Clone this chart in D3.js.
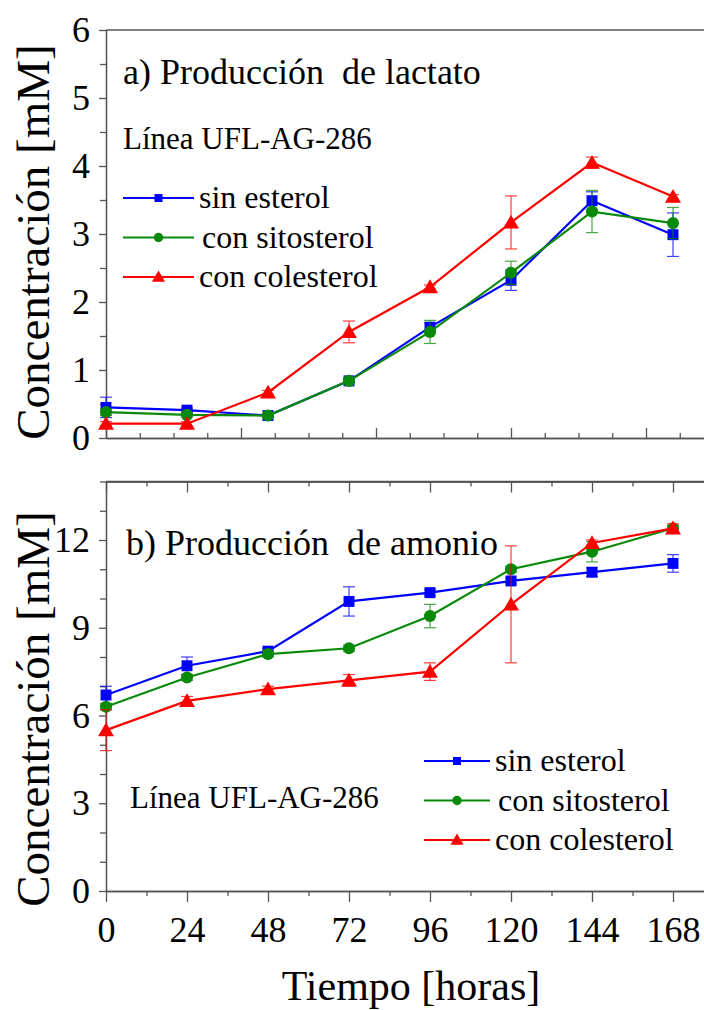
<!DOCTYPE html>
<html><head><meta charset="utf-8">
<script src="https://cdn.jsdelivr.net/npm/d3@7/dist/d3.min.js"></script>
<style>
html,body{margin:0;padding:0;background:#fff;}
svg text{font-family:"Liberation Serif","Times New Roman",serif;fill:#000;}
</style></head><body>
<svg id="c" width="704" height="1010"></svg>
<script>
// ---------- DATA ----------
const hours = [0, 24, 48, 72, 96, 120, 144, 168];
const seriesNames = ["sin esterol", "con sitosterol", "con colesterol"];

// a) Producción de lactato (mM)
const lactatoSin      = [0.45, 0.41, 0.33, 0.84, 1.63, 2.32, 3.49, 2.99];
const lactatoSinErr   = [0.15, 0.03, 0.02, 0.03, 0.06, 0.15, 0.13, 0.32];
const lactatoSito     = [0.38, 0.34, 0.33, 0.84, 1.56, 2.43, 3.33, 3.16];
const lactatoSitoErr  = [0.05, 0.03, 0.02, 0.03, 0.17, 0.17, 0.31, 0.23];
const lactatoCole     = [0.21, 0.21, 0.67, 1.56, 2.22, 3.17, 4.05, 3.55];
const lactatoColeErr  = [0.03, 0.03, 0.03, 0.16, 0.03, 0.39, 0.08, 0.03];

// b) Producción de amonio (mM)
const amonioSin       = [6.7, 7.7, 8.2, 9.9, 10.2, 10.6, 10.9, 11.2];
const amonioSinErr    = [0.3, 0.3, 0.1, 0.5, 0.1, 0.1, 0.15, 0.3];
const amonioSito      = [6.3, 7.3, 8.1, 8.3, 9.4, 11.0, 11.6, 12.4];
const amonioSitoErr   = [0.1, 0.1, 0.1, 0.1, 0.4, 0.1, 0.35, 0.1];
const amonioCole      = [5.5, 6.5, 6.9, 7.2, 7.5, 9.8, 11.9, 12.4];
const amonioColeErr   = [0.7, 0.15, 0.1, 0.2, 0.3, 2.0, 0.1, 0.15];

const topYTicks = [0, 1, 2, 3, 4, 5, 6];
const botYTicks = [0, 3, 6, 9, 12];
const botXTicks = [0, 24, 48, 72, 96, 120, 144, 168];

// ---------- STYLE ----------
const FONT = "Liberation Serif, Times New Roman, serif";
const colors = ["#0000ff", "#0a8a0a", "#ff0000"];
const symbols = [d3.symbolSquare, d3.symbolCircle, d3.symbolTriangle];
const symSize = [120, 115, 110];
const legSize = [64, 70, 75];
const axisColor = "#555";

const svg = d3.select("#c");
const x = d3.scaleLinear().domain([0, 178]).range([106, 106 + 178 * 81 / 24]);

function styleAxis(g) {
  g.attr("font-family", FONT);
  g.selectAll("path.domain").attr("stroke", axisColor).attr("stroke-width", 1.3);
  g.selectAll(".tick line").attr("stroke", axisColor).attr("stroke-width", 1.3);
  g.selectAll(".tick text").attr("font-size", 36).attr("font-family", FONT).attr("fill", "#000");
}

function addText(parent, size) {
  return parent.append("text").attr("font-family", FONT).attr("font-size", size).attr("fill", "#000");
}

function drawPanel(opts) {
  const y = d3.scaleLinear().domain(opts.yDomain).range(opts.yRange);
  const g = svg.append("g");
  // frame top line
  g.append("line").attr("x1", x(0)).attr("x2", 704).attr("y1", y(opts.yDomain[1])).attr("y2", y(opts.yDomain[1]))
    .attr("stroke", axisColor).attr("stroke-width", 1.3);

  // left axis
  const la = g.append("g").attr("transform", `translate(${x(0)},0)`)
    .call(d3.axisLeft(y).tickValues(opts.yMinor).tickSize(6).tickSizeOuter(0).tickFormat(""));
  styleAxis(la);
  const lb = g.append("g").attr("transform", `translate(${x(0)},0)`)
    .call(d3.axisLeft(y).tickValues(opts.yTicks).tickSize(7).tickSizeOuter(0).tickPadding(9).tickFormat(d3.format("d")));
  styleAxis(lb);

  // bottom axis
  const by = y(opts.yDomain[0]);
  const bm = g.append("g").attr("transform", `translate(0,${by})`)
    .call(d3.axisBottom(x).tickValues(opts.xMinor).tickSize(opts.xMinorSize).tickSizeOuter(0).tickFormat(""));
  styleAxis(bm);
  const bM = g.append("g").attr("transform", `translate(0,${by})`)
    .call(d3.axisBottom(x).tickValues(opts.xMajor).tickSize(opts.xMajorSize).tickSizeOuter(0).tickPadding(14)
      .tickFormat(opts.xLabels ? d3.format("d") : ""));
  styleAxis(bM);

  if (opts.topTicks) {
    const ty = y(opts.yDomain[1]);
    const tm = g.append("g").attr("transform", `translate(0,${ty})`)
      .call(d3.axisTop(x).tickValues(opts.xMinor).tickSize(-5).tickSizeOuter(0).tickFormat(""));
    styleAxis(tm);
    const tM = g.append("g").attr("transform", `translate(0,${ty})`)
      .call(d3.axisTop(x).tickValues(opts.xMajor).tickSize(-11).tickSizeOuter(0).tickFormat(""));
    styleAxis(tM);
  }

  // series
  const line = d3.line().x(d => x(d[0])).y(d => y(d[1]));
  opts.series.forEach((s, i) => {
    const pts = hours.map((h, k) => [h, s.v[k], s.e[k]]);
    const sg = g.append("g");
    // error bars
    pts.forEach(p => {
      const eg = sg.append("g").attr("stroke", colors[i]).attr("stroke-width", 1.2).attr("opacity", 0.75);
      eg.append("line").attr("x1", x(p[0])).attr("x2", x(p[0])).attr("y1", y(p[1] - p[2])).attr("y2", y(p[1] + p[2]));
      eg.append("line").attr("x1", x(p[0]) - 6).attr("x2", x(p[0]) + 6).attr("y1", y(p[1] - p[2])).attr("y2", y(p[1] - p[2]));
      eg.append("line").attr("x1", x(p[0]) - 6).attr("x2", x(p[0]) + 6).attr("y1", y(p[1] + p[2])).attr("y2", y(p[1] + p[2]));
    });
    sg.append("path").datum(pts).attr("d", line).attr("fill", "none")
      .attr("stroke", colors[i]).attr("stroke-width", 2.2);
    sg.selectAll("path.m").data(pts).enter().append("path").attr("class", "m")
      .attr("transform", p => `translate(${x(p[0])},${y(p[1]) + (i === 2 ? 1.5 : 0)})`)
      .attr("d", d3.symbol().type(symbols[i]).size(symSize[i]))
      .attr("fill", colors[i]);
  });

  // annotation texts
  addText(g, 36).attr("x", opts.titlePos[0]).attr("y", opts.titlePos[1])
    .style("white-space", "pre").text(opts.title);
  addText(g, 31).attr("x", opts.lineaPos[0]).attr("y", opts.lineaPos[1])
    .text("Línea UFL-AG-286");

  // legend
  const L = opts.legend;
  seriesNames.forEach((n, i) => {
    const ly = L.y0 + i * L.dy;
    const lg = g.append("g");
    lg.append("line").attr("x1", L.x1).attr("x2", L.x2).attr("y1", ly).attr("y2", ly)
      .attr("stroke", colors[i]).attr("stroke-width", 2);
    lg.append("path").attr("transform", `translate(${(L.x1 + L.x2) / 2},${ly + (i === 2 ? 1 : 0)})`)
      .attr("d", d3.symbol().type(symbols[i]).size(legSize[i])).attr("fill", colors[i]);
    addText(lg, 32).attr("x", L.x2 + 5 + (i === 1 ? 3 : 0)).attr("y", ly + 10).text(n);
  });

  // y title
  addText(g, 47).attr("transform", `translate(49,${opts.yTitleY}) rotate(-90)`)
    .attr("text-anchor", "middle").text("Concentración [mM]");
}

drawPanel({
  yDomain: [0, 6], yRange: [438, 30],
  yTicks: topYTicks, yMinor: d3.range(0.5, 6, 1),
  xMajor: [0, 40, 80, 120, 160], xMinor: d3.range(10, 178, 10).filter(v => v % 40 !== 0),
  xMajorSize: -10, xMinorSize: -5, xLabels: false, topTicks: false,
  series: [
    { v: lactatoSin, e: lactatoSinErr },
    { v: lactatoSito, e: lactatoSitoErr },
    { v: lactatoCole, e: lactatoColeErr }
  ],
  title: "a) Producción  de lactato", titlePos: [123, 84],
  lineaPos: [123, 149],
  legend: { x1: 123, x2: 194, y0: 198, dy: 39.5 },
  yTitleY: 242
});

drawPanel({
  yDomain: [0, 14], yRange: [891, 481.5],
  yTicks: botYTicks, yMinor: d3.range(1, 15, 1).filter(v => v % 3 !== 0),
  xMajor: botXTicks, xMinor: d3.range(12, 178, 24),
  xMajorSize: 11, xMinorSize: 5, xLabels: true, topTicks: true,
  series: [
    { v: amonioSin, e: amonioSinErr },
    { v: amonioSito, e: amonioSitoErr },
    { v: amonioCole, e: amonioColeErr }
  ],
  title: "b) Producción  de amonio", titlePos: [126, 555],
  lineaPos: [130, 808],
  legend: { x1: 424, x2: 490, y0: 761, dy: 39.5 },
  yTitleY: 709
});

addText(svg, 42).attr("x", 411).attr("y", 1000).attr("text-anchor", "middle")
  .text("Tiempo [horas]");
</script>
</body></html>
